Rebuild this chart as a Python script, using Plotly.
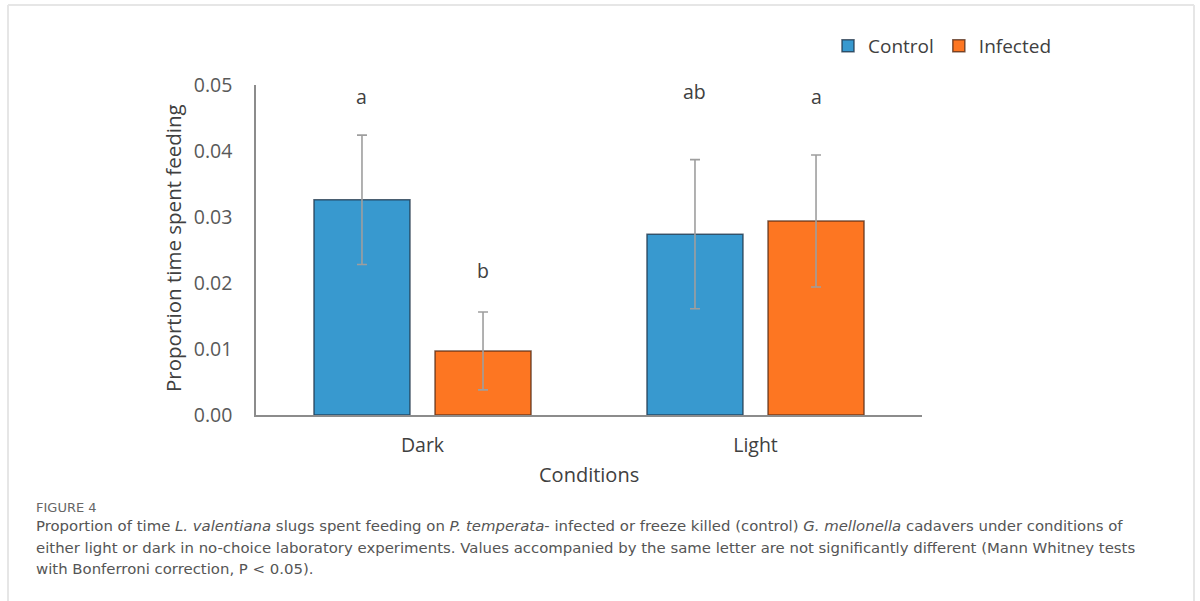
import plotly.graph_objects as go

conditions = ["Dark", "Light"]
control_mean = [0.0326, 0.0274]
control_err = [0.0098, 0.0113]
infected_mean = [0.0097, 0.0294]
infected_err = [0.0059, 0.0100]
control_letters = ["a", "ab"]
infected_letters = ["b", "a"]
yticks = [0.0, 0.01, 0.02, 0.03, 0.04, 0.05]
ytick_text = ["0.00", "0.01", "0.02", "0.03", "0.04", "0.05"]

W, H = 1200, 601
FONT = "Open Sans"
CAP_FONT = "DejaVu Sans"
TXT = "#404040"

def px(x):
    return x / W

def py(y):
    return 1 - y / H

fig = go.Figure()
fig.add_trace(go.Bar(
    name="Control", x=conditions, y=control_mean,
    marker=dict(color="#3899cf", line=dict(color="rgba(30,50,70,0.75)", width=1.5)),
    error_y=dict(type="data", array=control_err, color="#9e9e9e", thickness=1.6, width=5),
))
fig.add_trace(go.Bar(
    name="Infected", x=conditions, y=infected_mean,
    marker=dict(color="#fd7622", line=dict(color="rgba(80,40,20,0.75)", width=1.5)),
    error_y=dict(type="data", array=infected_err, color="#9e9e9e", thickness=1.6, width=5),
))

# vertical placement of the significance letters (pixel rows in the layout)
letter_rows = {(0, "Control"): 97, (0, "Infected"): 270, (1, "Control"): 92, (1, "Infected"): 97}

annotations = []
off = 0.182
for i, c in enumerate(conditions):
    for lbl, name, dx in [(control_letters[i], "Control", -off), (infected_letters[i], "Infected", off)]:
        annotations.append(dict(x=i + dx, y=py(letter_rows[(i, name)]), xref="x", yref="paper",
                                text=lbl, showarrow=False, yanchor="middle", xanchor="center",
                                font=dict(family=FONT, size=19.5, color=TXT)))

annotations.append(dict(x=px(173), y=py(248), xref="paper", yref="paper",
                        xanchor="center", yanchor="middle",
                        text="Proportion time spent feeding", textangle=-90, showarrow=False,
                        font=dict(family=FONT, size=20.5, color=TXT)))
annotations.append(dict(x=px(589), y=py(474), xref="paper", yref="paper",
                        xanchor="center", yanchor="middle",
                        text="Conditions", showarrow=False,
                        font=dict(family=FONT, size=20, color=TXT)))
annotations.append(dict(x=px(34), y=py(507), xref="paper", yref="paper", xanchor="left",
                        yanchor="middle",
                        text="FIGURE 4", showarrow=False,
                        font=dict(family=CAP_FONT, size=13, color="#666666")))
caption = [
    "Proportion of time <i>L. valentiana</i> slugs spent feeding on <i>P. temperata</i>- infected or freeze killed (control) <i>G. mellonella</i> cadavers under conditions of",
    "either light or dark in no-choice laboratory experiments. Values accompanied by the same letter are not significantly different (Mann Whitney tests",
    "with Bonferroni correction, P &lt; 0.05).",
]
for k, line in enumerate(caption):
    annotations.append(dict(x=px(34), y=py(526 + 21.5 * k), xref="paper", yref="paper", xanchor="left",
                            yanchor="middle",
                            text=line, showarrow=False,
                            font=dict(family=CAP_FONT, size=14.9, color="#555555")))

shapes = [
    dict(type="line", xref="paper", yref="paper", x0=px(8), x1=px(1194), y0=py(5), y1=py(5),
         line=dict(color="#e6e6e6", width=2)),
    dict(type="line", xref="paper", yref="paper", x0=px(8), x1=px(8), y0=py(5), y1=0,
         line=dict(color="#e6e6e6", width=2)),
    dict(type="line", xref="paper", yref="paper", x0=px(1194), x1=px(1194), y0=py(5), y1=0,
         line=dict(color="#e6e6e6", width=2)),
]

fig.update_layout(
    width=W, height=H,
    margin=dict(l=0, r=0, t=0, b=0, autoexpand=False),
    paper_bgcolor="white", plot_bgcolor="white",
    barmode="group", bargap=0.273, bargroupgap=0.207,
    showlegend=True,
    legend=dict(orientation="h", x=px(828), y=py(46), xanchor="left", yanchor="middle",
                font=dict(family=FONT, size=19, color=TXT), itemwidth=30, traceorder="normal",
                bgcolor="rgba(0,0,0,0)", tracegroupgap=0),
    xaxis=dict(domain=[px(256), px(922)], range=[-0.5, 1.5], showline=True, linecolor="#8c8c8c",
               linewidth=1.5, ticks="outside", ticklen=12, tickcolor="rgba(0,0,0,0)",
               tickfont=dict(family=FONT, size=19.5, color=TXT), showgrid=False, zeroline=False,
               fixedrange=True, automargin=False),
    yaxis=dict(domain=[py(415), py(85)], range=[0, 0.05], tickvals=yticks, ticktext=ytick_text,
               showline=True, linecolor="#8c8c8c", linewidth=1.5, ticks="outside", ticklen=18,
               tickcolor="rgba(0,0,0,0)", tickfont=dict(family=FONT, size=19.5, color="#595959"),
               showgrid=False, zeroline=False, fixedrange=True, automargin=False),
    annotations=annotations,
    shapes=shapes,
    font=dict(family=FONT),
)

fig.write_html("out.html")
